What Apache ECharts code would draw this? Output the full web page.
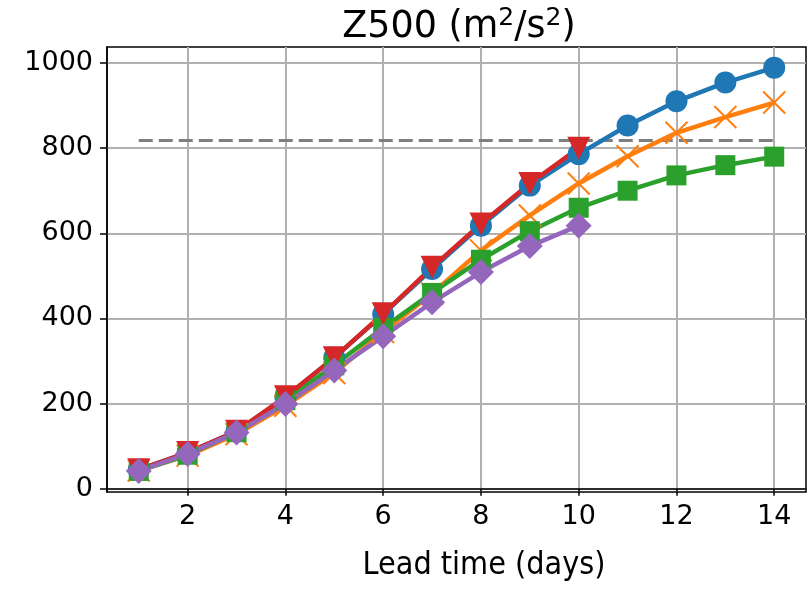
<!DOCTYPE html>
<html>
<head>
<meta charset="utf-8">
<script src="https://cdn.jsdelivr.net/npm/echarts@6/dist/echarts.min.js"></script>
<style>
  html, body { margin: 0; padding: 0; background: #fff; }
  #chart { width: 810px; height: 591px; }
</style>
</head>
<body>
<div id="chart"></div>
<script>
// lead time in days
var days = [1, 2, 3, 4, 5, 6, 7, 8, 9, 10, 11, 12, 13, 14]
var xTicks = [2, 4, 6, 8, 10, 12, 14]
var yTicks = [0, 200, 400, 600, 800, 1000]

// Z500 RMSE values per model
var blueVals = [45, 85, 135, 215, 308, 410, 516, 618, 712, 786, 853, 910, 954, 989]
var orangeVals = [43, 78, 128, 195, 272, 368, 458, 560, 642, 717, 781, 836, 873, 907]
var greenVals = [42, 80, 133, 208, 290, 378, 460, 538, 605, 660, 700, 736, 760, 780]
var redVals = [45, 85, 135, 216, 308, 411, 520, 622, 717, 800]
var purpleVals = [42, 82, 132, 199, 278, 358, 438, 509, 570, 618]

// reference level (dashed)
var refDays = [1, 14]
var refLevel = 818

function pairs(vals) {
    return vals.map(function (v, i) { return [days[i], v] })
}

var myChart = echarts.init(document.getElementById('chart'))

var tickFont = { fontFamily: 'DejaVu Sans', fontSize: 27, color: '#000' }

function lineSeries(name, vals, color, symbol, size, extra) {
    var s = {
        name: name,
        type: 'line',
        data: pairs(vals),
        symbol: symbol,
        symbolSize: size,
        showAllSymbol: true,
        lineStyle: { color: color, width: 4.5 },
        itemStyle: { color: color },
        emphasis: { disabled: true }
    }
    for (var k in extra) s[k] = extra[k]
    return s
}

var option = {
    animation: false,
    backgroundColor: '#fff',
    title: {
        text: '{a|Z500 (m}{s|2}{a|/s}{s|2}{a|)}',
        left: 454,
        textAlign: 'center',
        top: 1,
        textStyle: {
            fontWeight: 'normal',
            rich: {
                a: { fontFamily: 'DejaVu Sans', fontSize: 36.5, fontWeight: 'normal', color: '#000', verticalAlign: 'bottom', lineHeight: 40 },
                s: { fontFamily: 'DejaVu Sans', fontSize: 25, fontWeight: 'normal', color: '#000', verticalAlign: 'bottom', lineHeight: 40, padding: [0, 0, 15, 0] }
            }
        }
    },
    grid: {
        left: 107, right: 4, top: 47, bottom: 99,
        show: true,
        borderColor: '#000',
        borderWidth: 1.5,
        backgroundColor: 'transparent'
    },
    xAxis: {
        type: 'value',
        min: 0.35,
        max: 14.65,
        name: 'Lead time (days)',
        nameLocation: 'middle',
        nameGap: 58,
        nameTextStyle: {
            fontFamily: 'DejaVu Sans Condensed', fontSize: 32, color: '#000',
            padding: [0, 0, 0, 55]
        },
        axisLine: { show: true, lineStyle: { color: '#000', width: 1.5 } },
        axisTick: { show: true, inside: false, length: 7, customValues: xTicks, lineStyle: { color: '#000', width: 1.5 } },
        axisLabel: Object.assign({ margin: 11, customValues: xTicks }, tickFont),
        splitLine: { show: true, lineStyle: { color: '#b0b0b0', width: 2 } }
    },
    yAxis: {
        type: 'value',
        min: -7.5,
        max: 1037.5,
        axisLine: { show: true, lineStyle: { color: '#000', width: 1.5 } },
        axisTick: { show: true, inside: false, length: 7, customValues: yTicks, lineStyle: { color: '#000', width: 1.5 } },
        axisLabel: Object.assign({
            margin: 14,
            customValues: yTicks,
            formatter: function (v) { return String(v) }
        }, tickFont),
        splitLine: { show: true, lineStyle: { color: '#b0b0b0', width: 2 } }
    },
    series: [
        {
            name: 'ref',
            type: 'line',
            data: refDays.map(function (d) { return [d, refLevel] }),
            symbol: 'none',
            lineStyle: { color: '#7f7f7f', width: 3, type: [14, 6] },
            emphasis: { disabled: true }
        },
        lineSeries('blue', blueVals, '#1f77b4', 'circle', 22),
        lineSeries('orange', orangeVals, '#ff7f0e', 'path://M0,0L10,10M10,0L0,10', 22, {
            itemStyle: { color: 'rgba(0,0,0,0)', borderColor: '#ff7f0e', borderWidth: 2 }
        }),
        lineSeries('green', greenVals, '#2ca02c', 'rect', 20),
        lineSeries('red', redVals, '#d62728', 'triangle', 23, { symbolRotate: 180 }),
        lineSeries('purple', purpleVals, '#9467bd', 'diamond', 26)
    ]
}

myChart.setOption(option)
</script>
</body>
</html>
